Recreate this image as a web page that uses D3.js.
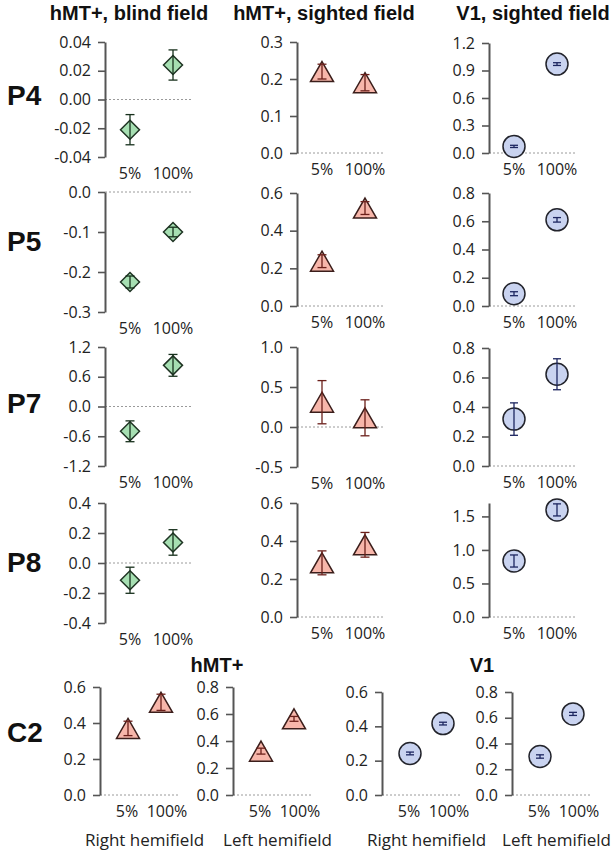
<!DOCTYPE html>
<html>
<head>
<meta charset="utf-8">
<script src="https://cdn.jsdelivr.net/npm/d3@7"></script>
<style>
  body { margin: 0; background: #fff; }
  svg { display: block; }
</style>
</head>
<body>
<div id="chart"></div>
<script>
// ---- data ----
const conditions = ["5%", "100%"];
const subjects = ["P4", "P5", "P7", "P8"];
const columnTitles = ["hMT+, blind field", "hMT+, sighted field", "V1, sighted field"];

// hMT+, blind field (green diamonds): [5%, 100%] per subject
const blindMeans = [[-0.021, 0.024], [-0.225, -0.100], [-0.50, 0.83], [-0.115, 0.137]];
const blindErrors = [[0.0105, 0.0105], [0.015, 0.012], [0.21, 0.22], [0.087, 0.085]];
// hMT+, sighted field (red triangles)
const sightedMeans = [[0.22, 0.19], [0.238, 0.52], [0.31, 0.115], [0.285, 0.38]];
const sightedErrors = [[0.02, 0.022], [0.034, 0.034], [0.27, 0.225], [0.063, 0.065]];
// V1, sighted field (blue circles)
const v1Means = [[0.072, 0.97], [0.087, 0.61], [0.318, 0.622], [0.835, 1.597]];
const v1Errors = [[0.012, 0.015], [0.014, 0.016], [0.11, 0.105], [0.09, 0.09]];

// control subject C2
const c2Label = "C2";
const c2Titles = ["hMT+", "V1"];
const hemifields = ["Right hemifield", "Left hemifield", "Right hemifield", "Left hemifield"];
const c2Means = [[0.37, 0.515], [0.325, 0.564], [0.242, 0.416], [0.299, 0.63]];
const c2Errors = [[0.04, 0.045], [0.022, 0.018], [0.008, 0.008], [0.013, 0.012]];

// y axis domains and tick labels
const gridDomains = [
  [[-0.04, 0.04], [0, 0.3], [0, 1.2]],
  [[-0.3, 0], [0, 0.6], [0, 0.8]],
  [[-1.2, 1.2], [-0.5, 1.0], [0, 0.8]],
  [[-0.4, 0.4], [0, 0.6], [0, 1.7]]
];
const gridTicks = [
  [[-0.04, -0.02, 0, 0.02, 0.04], [0, 0.1, 0.2, 0.3], [0, 0.3, 0.6, 0.9, 1.2]],
  [[-0.3, -0.2, -0.1, 0], [0, 0.2, 0.4, 0.6], [0, 0.2, 0.4, 0.6, 0.8]],
  [[-1.2, -0.6, 0, 0.6, 1.2], [-0.5, 0, 0.5, 1.0], [0, 0.2, 0.4, 0.6, 0.8]],
  [[-0.4, -0.2, 0, 0.2, 0.4], [0, 0.2, 0.4, 0.6], [0, 0.5, 1.0, 1.5]]
];
const c2Domains = [[0, 0.6], [0, 0.8], [0, 0.6], [0, 0.8]];
const c2Ticks = [[0, 0.2, 0.4, 0.6], [0, 0.2, 0.4, 0.6, 0.8], [0, 0.2, 0.4, 0.6], [0, 0.2, 0.4, 0.6, 0.8]];

// ---- layout ----
const width = 616, height = 853;
const gridAxisX = [105, 297, 489];
const gridAxisY = [
  [[42, 157], [42, 153], [43, 153]],
  [[192, 312], [193, 306], [193, 306]],
  [[347, 466], [347, 467], [348, 466]],
  [[503, 623], [503, 617], [503, 617]]
];
const c2AxisX = [100, 233, 382, 512];
const c2AxisY = [[687, 795], [687, 795], [692, 795], [692, 795]];

const styles = {
  diamond: { fill: "#a6dfb2", stroke: "#1f3323", bar: "#17301c" },
  triangle: { fill: "#f7b6aa", stroke: "#3b1e1b", bar: "#6b1f1a" },
  circle: { fill: "#c9d3f0", stroke: "#22232b", bar: "#1d2660" }
};

const svg = d3.select("#chart").append("svg")
  .attr("width", width)
  .attr("height", height);

svg.append("rect").attr("width", width).attr("height", height).attr("fill", "#fff");

const tickFont = "'Open Sans', 'DejaVu Sans', sans-serif";
const boldFont = "'Liberation Sans', Arial, sans-serif";

function shapePath(shape) {
  if (shape === "diamond") return "M0,-9.5L9.5,0L0,9.5L-9.5,0Z";
  if (shape === "triangle") return "M0,-10L11.5,10L-11.5,10Z";
  return null;
}

function drawPanel(p) {
  const g = svg.append("g");
  const y = d3.scaleLinear().domain(p.domain).range([p.bottom, p.top]);
  const x = d3.scalePoint().domain(conditions).range([p.x0 + p.offsets[0], p.x0 + p.offsets[1]]);
  const dec = p.decimals;

  // zero line
  g.append("line")
    .attr("x1", p.x0).attr("x2", p.x0 + p.zeroLen)
    .attr("y1", y(0)).attr("y2", y(0))
    .attr("stroke", "#9a9a9a")
    .attr("stroke-width", 1)
    .attr("stroke-dasharray", "2,2");

  const axis = g.append("g")
    .attr("transform", `translate(${p.x0},0)`)
    .call(d3.axisLeft(y).tickValues(p.ticks).tickSize(7).tickSizeOuter(0).tickPadding(7)
      .tickFormat(d => d.toFixed(dec)));
  axis.select(".domain").attr("stroke", "#555").attr("stroke-width", 2);
  axis.selectAll(".tick line").attr("stroke", "#555").attr("stroke-width", 1.6);
  axis.selectAll(".tick text")
    .attr("fill", "#222")
    .style("font-family", tickFont)
    .style("font-size", "16px");

  const st = styles[p.shape];
  const pts = conditions.map((c, i) => ({ c, m: p.means[i], e: p.errs[i] }));

  const mk = g.selectAll(".mk").data(pts).join(p.shape === "circle" ? "circle" : "path")
    .attr("class", "mk")
    .attr("fill", st.fill)
    .attr("stroke", st.stroke)
    .attr("stroke-width", 1.5);
  if (p.shape === "circle") {
    mk.attr("cx", d => x(d.c)).attr("cy", d => y(d.m)).attr("r", 11);
  } else {
    mk.attr("d", shapePath(p.shape))
      .attr("transform", d => `translate(${x(d.c)},${y(d.m)})`);
  }

  // error bars drawn over the markers
  const cap = p.shape === "circle" ? 4 : 4.5;
  const eb = g.selectAll(".eb").data(pts).join("g").attr("class", "eb")
    .attr("stroke", st.bar).attr("stroke-width", 1.3);
  eb.append("line")
    .attr("x1", d => x(d.c)).attr("x2", d => x(d.c))
    .attr("y1", d => y(d.m - d.e)).attr("y2", d => y(d.m + d.e));
  eb.append("line")
    .attr("x1", d => x(d.c) - cap).attr("x2", d => x(d.c) + cap)
    .attr("y1", d => y(d.m + d.e)).attr("y2", d => y(d.m + d.e));
  eb.append("line")
    .attr("x1", d => x(d.c) - cap).attr("x2", d => x(d.c) + cap)
    .attr("y1", d => y(d.m - d.e)).attr("y2", d => y(d.m - d.e));

  // condition labels
  const shift = p.labelShift || [0, 0];
  g.selectAll(".cl").data(conditions).join("text")
    .attr("class", "cl")
    .attr("x", (d, i) => x(d) + shift[i])
    .attr("y", p.bottom + 22)
    .attr("text-anchor", "middle")
    .attr("fill", "#222")
    .style("font-family", tickFont)
    .style("font-size", "16px")
    .text(d => d);

  if (p.caption) {
    g.append("text")
      .attr("x", (x(conditions[0]) + x(conditions[1])) / 2)
      .attr("y", p.bottom + 51)
      .attr("text-anchor", "middle")
      .attr("fill", "#222")
      .style("font-family", tickFont)
      .style("font-size", "17px")
      .text(p.caption);
  }
}

// column titles
const titleX = [129, 324, 533];
svg.selectAll(".ct").data(columnTitles).join("text")
  .attr("class", "ct")
  .attr("x", (d, i) => titleX[i])
  .attr("y", 20)
  .attr("text-anchor", "middle")
  .attr("fill", "#111")
  .style("font-family", boldFont)
  .style("font-weight", "bold")
  .style("font-size", "20px")
  .text(d => d);

const gridMeans = [blindMeans, sightedMeans, v1Means];
const gridErrors = [blindErrors, sightedErrors, v1Errors];
const gridShapes = ["diamond", "triangle", "circle"];
const labelBaseline = [105, 251, 413, 572];

subjects.forEach((s, r) => {
  svg.append("text")
    .attr("x", 7)
    .attr("y", labelBaseline[r])
    .attr("fill", "#111")
    .style("font-family", boldFont)
    .style("font-weight", "bold")
    .style("font-size", "28px")
    .text(s);

  gridShapes.forEach((shape, c) => {
    drawPanel({
      x0: gridAxisX[c],
      top: gridAxisY[r][c][0],
      bottom: gridAxisY[r][c][1],
      domain: gridDomains[r][c],
      ticks: gridTicks[r][c],
      decimals: r === 0 && c === 0 ? 2 : 1,
      means: gridMeans[c][r],
      errs: gridErrors[c][r],
      shape,
      offsets: [25, 68],
      zeroLen: 88
    });
  });
});

// C2 row
svg.append("text")
  .attr("x", 7)
  .attr("y", 742)
  .attr("fill", "#111")
  .style("font-family", boldFont)
  .style("font-weight", "bold")
  .style("font-size", "28px")
  .text(c2Label);

const c2TitleX = [217, 482];
svg.selectAll(".c2t").data(c2Titles).join("text")
  .attr("class", "c2t")
  .attr("x", (d, i) => c2TitleX[i])
  .attr("y", 672)
  .attr("text-anchor", "middle")
  .attr("fill", "#111")
  .style("font-family", boldFont)
  .style("font-weight", "bold")
  .style("font-size", "20px")
  .text(d => d);

c2Means.forEach((m, i) => {
  drawPanel({
    x0: c2AxisX[i],
    top: c2AxisY[i][0],
    bottom: c2AxisY[i][1],
    domain: c2Domains[i],
    ticks: c2Ticks[i],
    decimals: 1,
    means: m,
    errs: c2Errors[i],
    shape: i < 2 ? "triangle" : "circle",
    offsets: [28, 61],
    zeroLen: 80,
    caption: hemifields[i],
    labelShift: [-1, 6]
  });
});
</script>
</body>
</html>
